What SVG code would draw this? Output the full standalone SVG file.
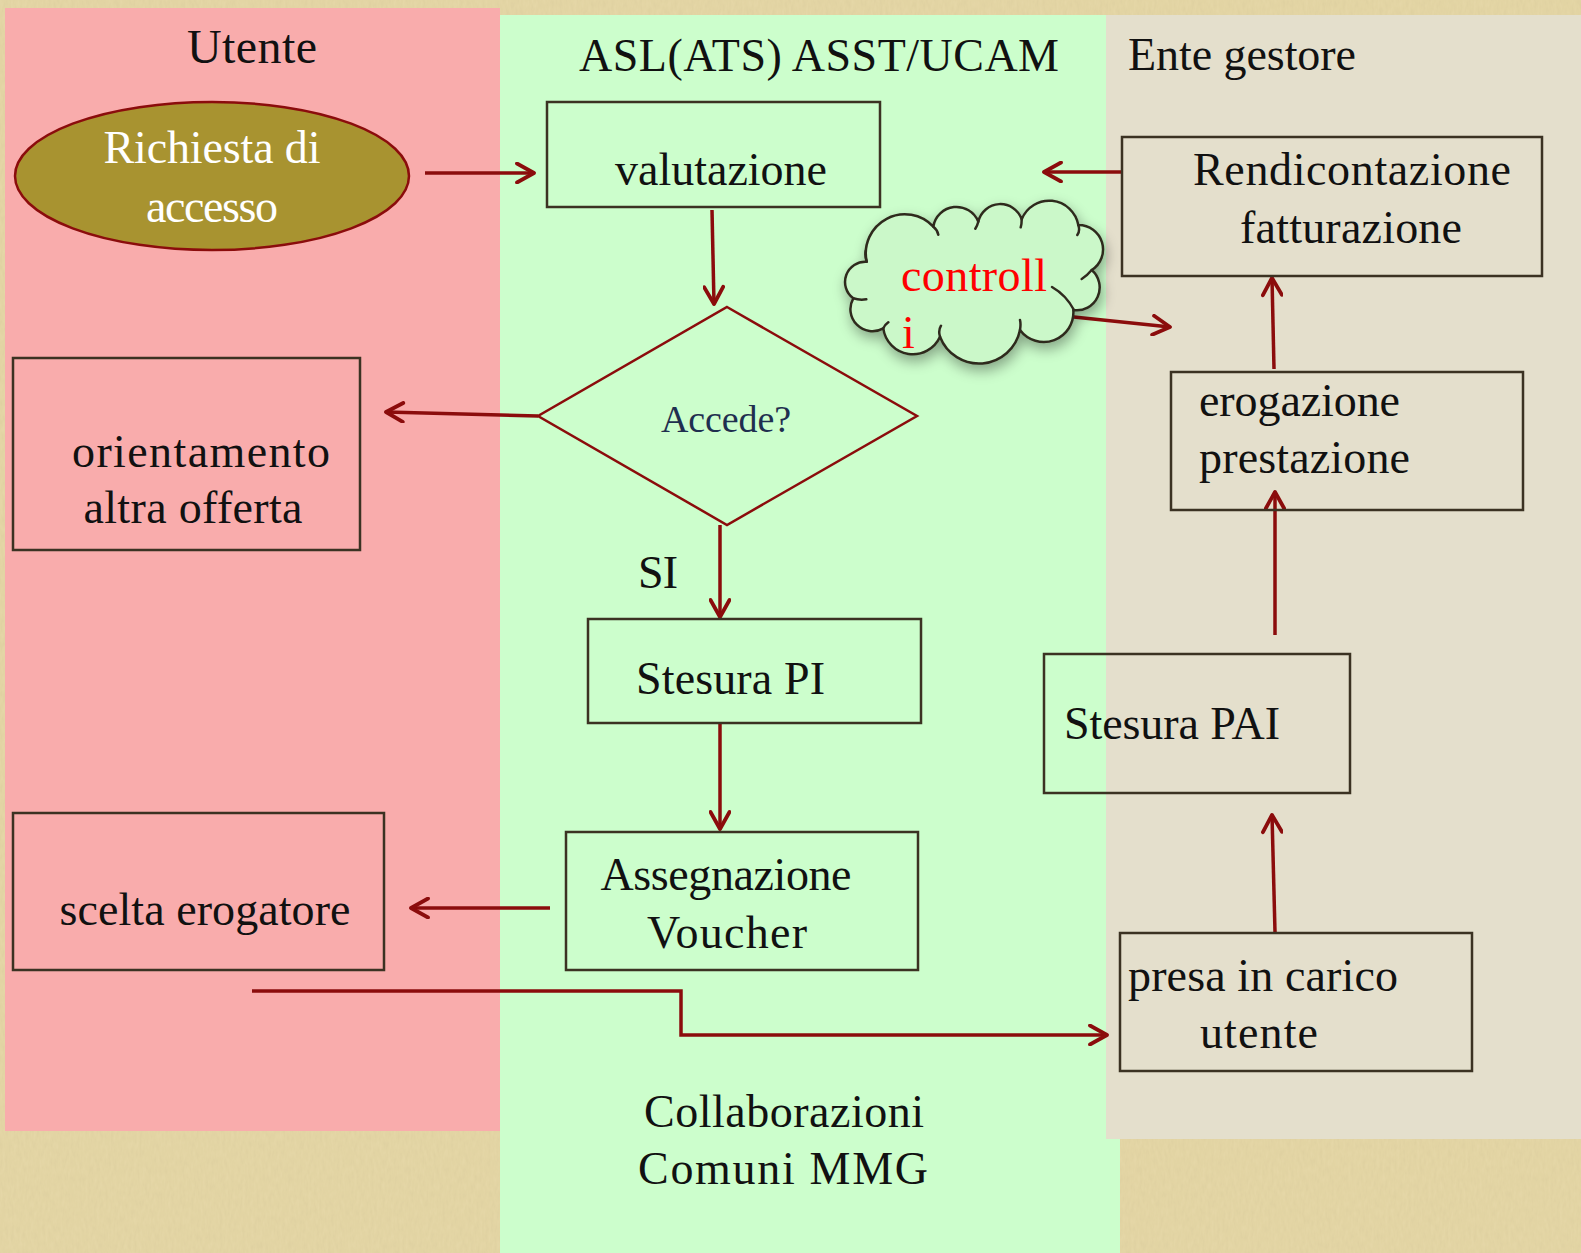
<svg xmlns="http://www.w3.org/2000/svg" width="1581" height="1253" viewBox="0 0 1581 1253">
<defs>
<style>
text{font-family:"Liberation Serif","Times New Roman",serif;font-size:46px;fill:#111}
.box{fill:none;stroke:#3b3222;stroke-width:2.5}
.con{fill:none;stroke:#8b0c0c;stroke-width:3.5}
.mid{text-anchor:middle}
</style>
<marker id="ah" viewBox="0 0 22 22" refX="20" refY="11" markerWidth="22" markerHeight="22" markerUnits="userSpaceOnUse" orient="auto">
<path d="M3,1.5 L20,11 L3,20.5" fill="none" stroke="#8b0c0c" stroke-width="3.8" stroke-linecap="round" stroke-linejoin="round"/>
</marker>
<filter id="paper" x="0" y="0" width="100%" height="100%">
<feTurbulence type="fractalNoise" baseFrequency="0.35 0.12" numOctaves="3" seed="4" result="n"/>
<feColorMatrix in="n" type="matrix" values="0 0 0 0 0.6  0 0 0 0 0.5  0 0 0 0 0.25  0 0 0 0.3 0" result="c"/>
<feComposite in="c" in2="SourceGraphic" operator="atop"/>
</filter>
<filter id="shadow" x="-20%" y="-20%" width="140%" height="150%">
<feGaussianBlur in="SourceAlpha" stdDeviation="7"/>
<feOffset dx="2" dy="6" result="b"/>
<feComponentTransfer><feFuncA type="linear" slope="0.35"/></feComponentTransfer>
<feMerge><feMergeNode/><feMergeNode in="SourceGraphic"/></feMerge>
</filter>
</defs>

<g id="background">
<rect x="0" y="0" width="1581" height="1253" fill="#e6d8a8" filter="url(#paper)"/>
<rect x="5" y="8" width="495" height="1123" fill="#f9acac"/>
<rect x="500" y="15" width="620" height="1238" fill="#ccfecc"/>
<rect x="1106" y="15" width="475" height="1124" fill="#e4dfcc"/>
</g>

<g id="lane-labels">
<text class="mid" x="252" y="63" style="font-size:48px" textLength="130">Utente</text>
<text x="579" y="71" textLength="480">ASL(ATS) ASST/UCAM</text>
<text x="1128" y="70" textLength="228">Ente gestore</text>
<text x="644" y="1127" textLength="280">Collaborazioni</text>
<text x="638" y="1184" textLength="290">Comuni MMG</text>
</g>

<g id="connectors">
<line class="con" x1="425" y1="173" x2="534" y2="173" marker-end="url(#ah)"/>
<line class="con" x1="712" y1="210" x2="714" y2="304" marker-end="url(#ah)"/>
<line class="con" x1="538" y1="416" x2="386" y2="412" marker-end="url(#ah)"/>
<line class="con" x1="720" y1="525" x2="720" y2="617" marker-end="url(#ah)"/>
<line class="con" x1="720" y1="723" x2="720" y2="829" marker-end="url(#ah)"/>
<line class="con" x1="550" y1="908" x2="411" y2="908" marker-end="url(#ah)"/>
<polyline class="con" points="252,991 681,991 681,1035 1107,1035" marker-end="url(#ah)"/>
<line class="con" x1="1275" y1="932" x2="1272" y2="815" marker-end="url(#ah)"/>
<line class="con" x1="1275" y1="635" x2="1275" y2="492" marker-end="url(#ah)"/>
<line class="con" x1="1274" y1="369" x2="1272" y2="278" marker-end="url(#ah)"/>
<line class="con" x1="1122" y1="172" x2="1044" y2="172" marker-end="url(#ah)"/>
<line class="con" x1="1045" y1="314" x2="1170" y2="327" marker-end="url(#ah)"/>
</g>

<g id="richiesta">
<ellipse cx="212" cy="176" rx="197" ry="74" fill="#a89330" stroke="#8b0c0c" stroke-width="2.5"/>
<text class="mid" x="212" y="163" style="fill:#fff" textLength="217">Richiesta di</text>
<text class="mid" x="212" y="222" style="fill:#fff" textLength="132">accesso</text>
</g>

<g id="valutazione">
<rect class="box" x="547" y="102" width="333" height="105"/>
<text class="mid" x="721" y="185" textLength="212">valutazione</text>
</g>

<g id="accede">
<polygon points="727,307 917,416 727,525 538,416" fill="none" stroke="#8b0c0c" stroke-width="2.5"/>
<text class="mid" x="726" y="432" style="font-size:38px;fill:#1f2f4f" textLength="130">Accede?</text>
</g>

<g id="si-label">
<text x="638" y="588" textLength="40">SI</text>
</g>

<g id="orientamento">
<rect class="box" x="13" y="358" width="347" height="192"/>
<text class="mid" x="201" y="467" textLength="258">orientamento</text>
<text class="mid" x="193" y="523" textLength="219">altra offerta</text>
</g>

<g id="stesura-pi">
<rect class="box" x="588" y="619" width="333" height="104"/>
<text x="636" y="694" textLength="189">Stesura PI</text>
</g>

<g id="assegnazione">
<rect class="box" x="566" y="832" width="352" height="138"/>
<text class="mid" x="726" y="890" textLength="251">Assegnazione</text>
<text class="mid" x="727" y="948" textLength="160">Voucher</text>
</g>

<g id="scelta">
<rect class="box" x="13" y="813" width="371" height="157"/>
<text class="mid" x="205" y="925" textLength="291">scelta erogatore</text>
</g>

<g id="rendicontazione">
<rect class="box" x="1122" y="137" width="420" height="139"/>
<text x="1193" y="185" textLength="318">Rendicontazione</text>
<text x="1240" y="243" textLength="222">fatturazione</text>
</g>

<g id="controlli">
<path filter="url(#shadow)" fill="#cbf8c9" stroke="#2f2a1e" stroke-width="2.5" stroke-linejoin="round"
d="M866.7,261.7 A39,39 0 0 1 933.3,226.7 A23.5,23.5 0 0 1 978.3,221.7 A22.6,22.6 0 0 1 1021.7,219.3 A29.6,29.6 0 0 1 1078.3,225 A24.4,24.4 0 0 1 1091.7,270 A22.9,22.9 0 0 1 1073.3,310 A29.6,29.6 0 0 1 1020,330 A41.8,41.8 0 0 1 940,336.7 A29.8,29.8 0 0 1 883.3,328.3 A22,22 0 0 1 853.3,298.3 A20.3,20.3 0 0 1 866.7,261.7 Z"/>
<path fill="none" stroke="#2f2a1e" stroke-width="2.5" stroke-linecap="round"
d="M933.3,226.7 q4,3 5,8 M978.3,221.7 q-1,4 -3,7 M1021.7,219.3 q0,5 -1,8 M1078.3,225 q2,6 -1,10 M1091.7,270 q-5,6 -10,9 M1052,287 q14,8 22,23 M1020,330 q1,-6 0,-10 M940,336.7 q-2,-6 1,-11 M883.3,328.3 q2,-4 5,-6 M853.3,298.3 q6,2 13,1 M866.7,261.7 q-2,-6 -1,-11"/>
<text x="901" y="291" style="fill:#ff0000" textLength="146">controll</text>
<text x="902" y="348" style="fill:#ff0000">i</text>
</g>

<g id="erogazione">
<rect class="box" x="1171" y="372" width="352" height="138"/>
<text x="1199" y="416" textLength="201">erogazione</text>
<text x="1199" y="473" textLength="211">prestazione</text>
</g>

<g id="stesura-pai">
<rect class="box" x="1044" y="654" width="306" height="139"/>
<text x="1064" y="739" textLength="216">Stesura PAI</text>
</g>

<g id="presa-in-carico">
<rect class="box" x="1120" y="933" width="352" height="138"/>
<text x="1128" y="991" textLength="270">presa in carico</text>
<text x="1200" y="1048" textLength="118">utente</text>
</g>
</svg>
